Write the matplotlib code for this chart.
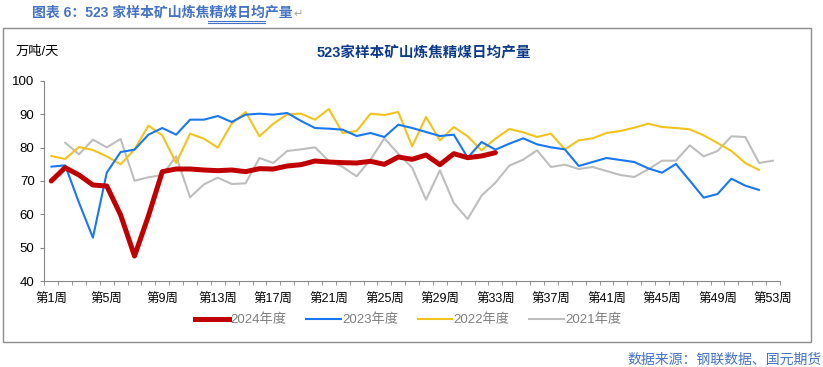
import matplotlib
matplotlib.use("Agg")
import matplotlib.pyplot as plt
import numpy as np
from matplotlib.patches import Rectangle
from matplotlib.lines import Line2D

plt.rcParams['font.family'] = ['Liberation Sans', 'Noto Sans CJK SC', 'DejaVu Sans']

# 数据：周次与各年度日均产量（万吨/天）
weeks = np.arange(1, 54)
week_labels = ["第%d周" % w for w in weeks]

y2024 = [70.0, 74.0, 71.8, 68.8, 68.5, 59.8, 47.5, 59.5, 72.8, 73.6,
         73.6, 73.3, 73.1, 73.3, 72.8, 73.7, 73.6, 74.5, 74.9, 76.0,
         75.7, 75.5, 75.4, 75.9, 75.0, 77.2, 76.5, 77.8, 74.9, 78.2,
         77.0, 77.5, 78.5]

y2023 = [74.3, 74.7, 63.5, 53.0, 72.5, 78.7, 79.4, 83.9, 85.9, 83.9,
         88.4, 88.4, 89.5, 87.7, 89.9, 90.2, 89.9, 90.4, 88.0, 85.9,
         85.7, 85.4, 83.5, 84.4, 83.2, 86.9, 85.9, 84.7, 83.5, 83.9,
         77.0, 81.7, 79.4, 81.2, 82.8, 81.0, 80.1, 79.5, 74.5, 75.7,
         76.9, 76.3, 75.7, 73.8, 72.5, 75.1, 70.1, 65.0, 66.1, 70.7,
         68.6, 67.3]

y2022 = [77.5, 76.6, 80.2, 79.3, 77.4, 75.0, 79.5, 86.6, 83.7, 75.4,
         84.2, 82.7, 80.0, 87.2, 90.7, 83.4, 87.2, 90.0, 90.2, 88.4,
         91.6, 84.4, 85.0, 90.2, 89.8, 90.7, 80.4, 89.2, 82.2, 86.2,
         83.4, 79.2, 82.7, 85.6, 84.6, 83.2, 84.2, 79.5, 82.2, 82.8,
         84.4, 85.0, 86.0, 87.2, 86.2, 85.9, 85.5, 83.7, 81.4, 79.0,
         75.4, 73.3]

y2021 = [np.nan, 81.5, 78.0, 82.4, 80.1, 82.6, 70.1, 71.1, 71.8, 77.4,
         65.1, 69.0, 71.0, 69.1, 69.3, 76.9, 75.4, 79.0, 79.5, 80.1,
         76.0, 74.2, 71.4, 76.4, 82.8, 78.2, 74.0, 64.4, 73.2, 63.4,
         58.6, 65.6, 69.5, 74.6, 76.4, 79.2, 74.2, 74.9, 73.6, 74.2,
         73.0, 71.8, 71.2, 73.5, 76.1, 76.1, 80.7, 77.4, 79.0, 83.4,
         83.2, 75.4, 76.1]

series = [
    ("2024年度", y2024, "#C00000", 3.6, 5),
    ("2023年度", y2023, "#1877F2", 1.5, 4),
    ("2022年度", y2022, "#F2C31A", 1.5, 3),
    ("2021年度", y2021, "#BEBEBE", 1.5, 2),
]

W, H = 823, 367
fig = plt.figure(figsize=(W / 100, H / 100), dpi=100)

# 外框
fig.patches.append(Rectangle((3 / W, 1 - 342 / H), 808 / W, 314 / H,
                             transform=fig.transFigure, fill=False,
                             edgecolor="#8C8C8C", lw=1))

ax = fig.add_axes([44.3 / W, 1 - 281 / H, (780 - 44.3) / W, 200 / H])

for name, vals, color, lw, z in series:
    ax.plot(weeks[:len(vals)], vals, color=color, lw=lw, zorder=z,
            solid_capstyle="round", solid_joinstyle="round", label=name)

ax.set_xlim(0.5, 53.5)
ax.set_ylim(40, 100)
ax.set_yticks(np.arange(40, 101, 10))
ax.set_xticks(weeks[::4])
ax.set_xticklabels(week_labels[::4])
ax.set_xticks(np.arange(0.5, 54, 1), minor=True)
ax.tick_params(axis="x", which="major", length=0, pad=9, labelsize=9)
ax.tick_params(axis="x", which="minor", length=3, color="#868686", direction="out")
ax.tick_params(axis="y", length=3, pad=4, labelsize=9.5, color="#868686")
for s in ["top", "right"]:
    ax.spines[s].set_visible(False)
for s in ["left", "bottom"]:
    ax.spines[s].set_color("#868686")

# 图例
handles = [Line2D([], [], color=c, lw=lw) for _, _, c, lw, _ in series]
leg = fig.legend(handles, [s[0] for s in series], loc="center",
                 bbox_to_anchor=(408 / W, 1 - 320 / H), ncol=4, frameon=False,
                 fontsize=9.5, handlelength=2.6, handletextpad=0.1,
                 columnspacing=1.5, labelcolor="#7F7F7F")

# 文本
fig.text(32 / W, 1 - 13 / H, "图表 6：523 家样本矿山炼焦精煤日均产量",
         color="#4472C4", fontsize=10, weight="bold", va="center", ha="left")
fig.text(293 / W, 1 - 14 / H, "↵", color="#A0A0A0", fontsize=8,
         va="center", ha="left", family="DejaVu Sans")
for yy in (20.7, 22.7):
    fig.add_artist(Line2D([208 / W, 265 / W], [1 - yy / H, 1 - yy / H],
                          color="#4472C4", lw=0.8, transform=fig.transFigure))
fig.text(16 / W, 1 - 52 / H, "万吨/天", fontsize=9.5, va="center", ha="left")
fig.text(424 / W, 1 - 53 / H, "523家样本矿山炼焦精煤日均产量", color="#0D3A8A",
         fontsize=10.5, weight="bold", va="center", ha="center")
fig.text(822 / W, 1 - 360 / H, "数据来源：钢联数据、国元期货", color="#4472C4",
         fontsize=10, va="center", ha="right")

fig.savefig("out.png", dpi=100)
